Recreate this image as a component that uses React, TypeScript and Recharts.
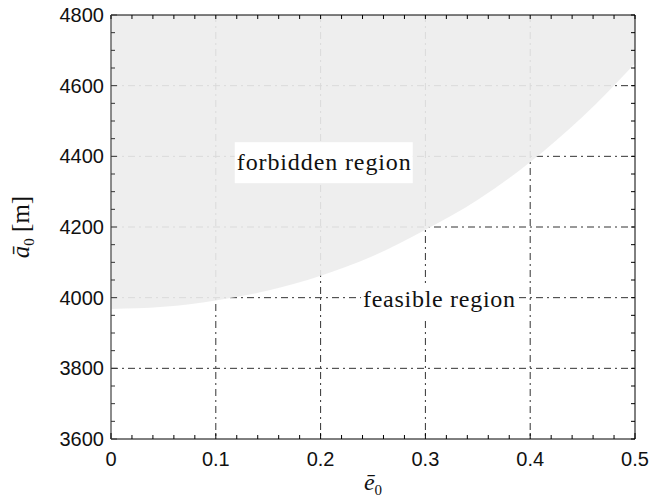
import { AreaChart, Area, XAxis, YAxis, CartesianGrid, ReferenceDot } from "recharts";

// eccentricity samples and the lower edge of the forbidden region (m)
const eccentricity = [0, 0.05, 0.1, 0.15, 0.2, 0.25, 0.3, 0.35, 0.4, 0.45, 0.5];
const minSemiMajor = [3968, 3974, 3992, 4020, 4062, 4118, 4192, 4277, 4384, 4512, 4663];

const xTicks = [
  0, 0.02, 0.04, 0.06, 0.08, 0.1, 0.12, 0.14, 0.16, 0.18, 0.2, 0.22, 0.24, 0.26, 0.28, 0.3,
  0.32, 0.34, 0.36, 0.38, 0.4, 0.42, 0.44, 0.46, 0.48, 0.5,
];
const xMajor = [0, 0.1, 0.2, 0.3, 0.4, 0.5];
const yTicks = [
  3600, 3650, 3700, 3750, 3800, 3850, 3900, 3950, 4000, 4050, 4100, 4150, 4200, 4250, 4300,
  4350, 4400, 4450, 4500, 4550, 4600, 4650, 4700, 4750, 4800,
];
const yMajor = [3600, 3800, 4000, 4200, 4400, 4600, 4800];
const gridX = [0.1, 0.2, 0.3, 0.4];
const gridY = [3800, 4000, 4200, 4400, 4600];
const yTop = 4800;

const data = eccentricity.map((e, i) => ({ e, lower: minSemiMajor[i] }));

const sans = "Liberation Sans, Arial, Helvetica, sans-serif";
const serif = "Liberation Serif, Times New Roman, serif";

const isMajor = (list: number[], v: number) => list.some((m) => Math.abs(m - v) < 1e-6);

const BottomTick = ({ x, y, payload }: any) => {
  const major = isMajor(xMajor, payload.value);
  return (
    <g>
      <line x1={x} x2={x} y1={y} y2={y - (major ? 6 : 4)} stroke="#000" strokeWidth={1} />
      {major && (
        <text x={x} y={y + 27} textAnchor="middle" style={{ fontFamily: sans, fontSize: 20 }} fill="#111">
          {payload.value}
        </text>
      )}
    </g>
  );
};

const TopTick = ({ x, y }: any) => (
  <line x1={x} x2={x} y1={y} y2={y + 4} stroke="#000" strokeWidth={1} />
);

const LeftTick = ({ x, y, payload }: any) => {
  const major = isMajor(yMajor, payload.value);
  return (
    <g>
      <line x1={x} x2={x + (major ? 6 : 4)} y1={y} y2={y} stroke="#333" strokeWidth={1} />
      {major && (
        <text x={x - 7} y={y + 7} textAnchor="end" style={{ fontFamily: sans, fontSize: 20 }} fill="#111">
          {payload.value}
        </text>
      )}
    </g>
  );
};

const RightTick = ({ x, y }: any) => (
  <line x1={x} x2={x - 4} y1={y} y2={y} stroke="#000" strokeWidth={1} />
);

const boxLabel = (text: string, w: number, h: number) => (props: any) => {
  const { cx, cy } = props;
  return (
    <g>
      <rect x={cx - w / 2} y={cy - h / 2} width={w} height={h} fill="#fff" />
      <text
        x={cx}
        y={cy + 7}
        textAnchor="middle"
        style={{ fontFamily: serif, fontSize: 24 }}
        fill="#111"
        textLength={w - 4}
        lengthAdjust="spacing"
      >
        {text}
      </text>
    </g>
  );
};

export default function App() {
  return (
    <div style={{ position: "absolute", left: 0, top: 0, width: 651, height: 501, background: "#fff" }}>
      <AreaChart width={651} height={501} data={data} margin={{ top: 14, right: 15, bottom: 15, left: 16 }}>
        <CartesianGrid
          xAxisId="b"
          yAxisId="l"
          horizontalValues={gridY}
          verticalValues={gridX}
          stroke="#333"
          strokeDasharray="7 4 2 4"
        />
        <XAxis
          xAxisId="b"
          dataKey="e"
          type="number"
          domain={[0, 0.5]}
          allowDataOverflow
          ticks={xTicks}
          interval={0}
          tick={<BottomTick />}
          tickLine={false}
          tickSize={0}
          tickMargin={0}
          height={47}
          stroke="#000"
        />
        <XAxis
          xAxisId="t"
          dataKey="e"
          orientation="top"
          type="number"
          domain={[0, 0.5]}
          allowDataOverflow
          ticks={xTicks}
          interval={0}
          tick={<TopTick />}
          tickLine={false}
          tickSize={0}
          tickMargin={0}
          height={1}
          stroke="#000"
        />
        <YAxis
          yAxisId="l"
          type="number"
          domain={[3600, 4800]}
          allowDataOverflow
          ticks={yTicks}
          interval={0}
          tick={<LeftTick />}
          tickLine={false}
          tickSize={0}
          tickMargin={0}
          width={95}
          stroke="#666"
          strokeWidth={1.5}
        />
        <YAxis
          yAxisId="r"
          dataKey="lower"
          orientation="right"
          type="number"
          domain={[3600, 4800]}
          allowDataOverflow
          ticks={yTicks}
          interval={0}
          tick={<RightTick />}
          tickLine={false}
          tickSize={0}
          tickMargin={0}
          width={1}
          stroke="#000"
        />
        <Area
          xAxisId="b"
          yAxisId="l"
          type="monotone"
          dataKey={(d: any) => [d.lower, yTop]}
          stroke="none"
          fill="#ececec"
          fillOpacity={0.9}
          isAnimationActive={false}
        />
        <Area
          xAxisId="t"
          yAxisId="r"
          dataKey="lower"
          stroke="none"
          fill="none"
          isAnimationActive={false}
        />
        <ReferenceDot
          xAxisId="b"
          yAxisId="l"
          x={0.203}
          y={4382}
          ifOverflow="visible"
          shape={boxLabel("forbidden region", 178, 41)}
        />
        <ReferenceDot
          xAxisId="b"
          yAxisId="l"
          x={0.313}
          y={3993}
          ifOverflow="visible"
          shape={boxLabel("feasible region", 156, 34)}
        />
      </AreaChart>
      <svg width={651} height={501} style={{ position: "absolute", left: 0, top: 0, pointerEvents: "none" }}>
        <text
          transform="translate(29,227) rotate(-90)"
          textAnchor="middle"
          style={{ fontFamily: serif, fontSize: 25 }}
          fill="#111"
        >
          <tspan fontStyle="italic">ā</tspan>
          <tspan fontSize={15} dy={5}>0</tspan>
          <tspan dy={-5}> [m]</tspan>
        </text>
        <text x={373} y={490} textAnchor="middle" style={{ fontFamily: serif, fontSize: 24 }} fill="#111">
          <tspan fontStyle="italic">ē</tspan>
          <tspan fontSize={15} dy={5}>0</tspan>
        </text>
      </svg>
    </div>
  );
}
